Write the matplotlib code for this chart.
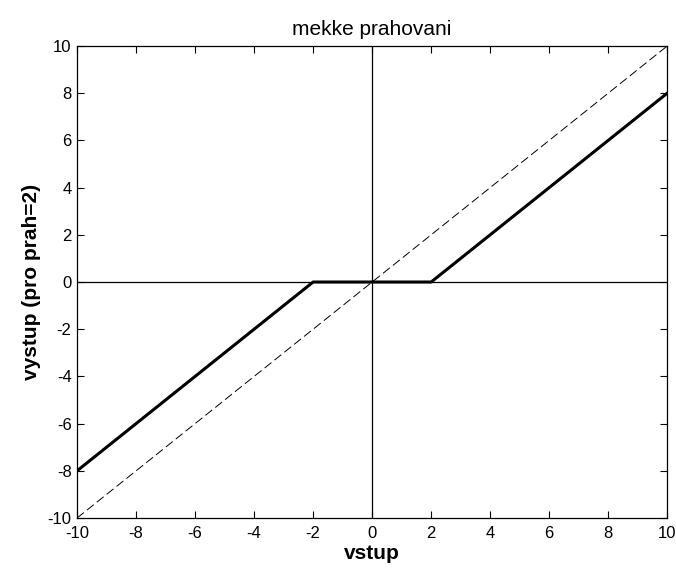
import matplotlib
matplotlib.use("Agg")
import matplotlib.pyplot as plt

# soft threshold (prah = 2) breakpoints
vstup = [-10, -2, 2, 10]
vystup = [-8, 0, 0, 8]
# identity reference line
ident_x = [-10, 10]
ident_y = [-10, 10]
ticks = [-10, -8, -6, -4, -2, 0, 2, 4, 6, 8, 10]

plt.rcParams['font.family'] = ['Liberation Sans', 'DejaVu Sans']
plt.rcParams['axes.unicode_minus'] = False

fig = plt.figure(figsize=(6.76, 5.68), dpi=100)
ax = fig.add_axes([0.114, 0.088, 0.873, 0.831])

ax.axhline(0, color='black', lw=0.9)
ax.axvline(0, color='black', lw=0.9)
ax.plot(ident_x, ident_y, color='black', lw=0.7, dashes=(9, 4))
ax.plot(vstup, vystup, color='black', lw=2.2)

ax.set_xlim(-10, 10)
ax.set_ylim(-10, 10)
ax.set_xticks(ticks)
ax.set_yticks(ticks)
ax.tick_params(direction='in', top=True, right=True, length=5, labelsize=12)
ax.tick_params(axis='x', pad=6)
ax.tick_params(axis='y', pad=4)
for s in ax.spines.values():
    s.set_linewidth(0.9)

ax.set_title('mekke prahovani', fontsize=15, pad=8)
ax.set_xlabel('vstup', fontsize=15, fontweight='bold', labelpad=2)
ax.set_ylabel('vystup (pro prah=2)', fontsize=15, fontweight='bold', labelpad=5)

fig.savefig('out.png', dpi=100)
